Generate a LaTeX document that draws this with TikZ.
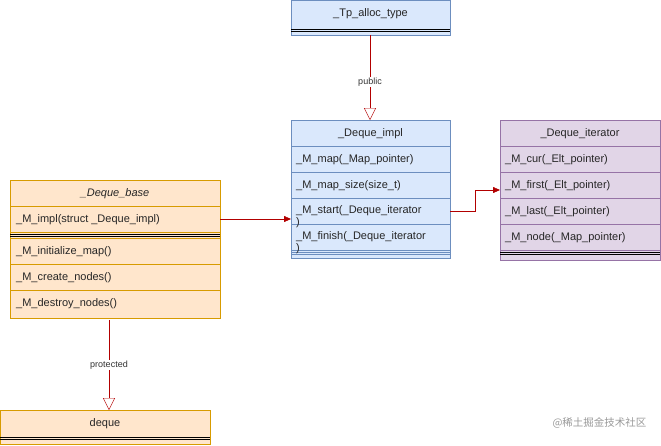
\documentclass[tikz,border=0pt]{standalone}
\usepackage{fontspec}
\setmainfont{Liberation Sans}
\newfontfamily\cjk{Noto Sans CJK SC}
\usetikzlibrary{arrows.meta}
\definecolor{ofill}{HTML}{FFE6CC}\definecolor{odraw}{HTML}{D79B00}
\definecolor{bfill}{HTML}{DAE8FC}\definecolor{bdraw}{HTML}{6C8EBF}
\definecolor{pfill}{HTML}{E1D5E7}\definecolor{pdraw}{HTML}{9673A6}
\definecolor{ared}{HTML}{B20000}
\begin{document}
\begin{tikzpicture}[x=1pt,y=-1pt,
 txt/.style={font=\fontsize{11}{11.5}\selectfont, text=black!85, inner sep=0pt},
 hd/.style={txt, anchor=center},
 rw/.style={txt, anchor=west, align=left},
 lbl/.style={font=\fontsize{9}{10}\selectfont, fill=white, inner sep=1pt, text=black!80},
 inh/.style={draw=ared, -{Triangle[open,length=12pt,width=12pt]}},
 ass/.style={draw=ared, -{Triangle[length=7pt,width=6pt]}}]
\useasboundingbox (0,0) rectangle (661,445);
\newcommand{\mybox}[8]{%
 \fill[#6] (#1,#3) rectangle (#2,#5);
 \draw[#7] (#1,#3) rectangle (#2,#5);
 \draw[#8] (#1,#4+2) -- (#2,#4+2);
 \draw[#8] (#1,#4+4.5) -- (#2,#4+4.5);}
\newcommand{\myrow}[4]{\draw[#4] (#1,#3) -- (#2,#3);}
% Tp_alloc_type
\mybox{291}{450}{0}{27}{35}{bfill}{bdraw}{black}
\node[hd] (tp) at (370.5,14) {\_Tp\_alloc\_type};
\coordinate (tpb) at (370,35);
% Deque_impl
\mybox{291}{450}{120}{250}{258}{bfill}{bdraw}{bdraw}
\foreach \y in {146,172,198,224,250}{\myrow{291}{450}{\y}{bdraw}}
\node[hd] (impl) at (370.5,134) {\_Deque\_impl};
\coordinate (implt) at (370,120);
\node[rw] (i1) at (296,160) {\_M\_map(\_Map\_pointer)};
\node[rw] (i2) at (296,186) {\_M\_map\_size(size\_t)};
\node[rw,anchor=north west] (i3) at (296,205.5) {\_M\_start(\_Deque\_iterator\\)};
\node[rw,anchor=north west] (i4) at (296,231.5) {\_M\_finish(\_Deque\_iterator\\)};
\coordinate (i3l) at (291,219);
\coordinate (i3r) at (450,211);
% Deque_iterator
\mybox{500}{660}{120}{250}{260}{pfill}{pdraw}{black}
\foreach \y in {146,172,198,224,250}{\myrow{500}{660}{\y}{pdraw}}
\node[hd] (it) at (580,134) {\_Deque\_iterator};
\node[rw] (t1) at (505,160) {\_M\_cur(\_Elt\_pointer)};
\node[rw] (t2) at (505,186) {\_M\_first(\_Elt\_pointer)};
\node[rw] (t3) at (505,212) {\_M\_last(\_Elt\_pointer)};
\node[rw] (t4) at (505,238) {\_M\_node(\_Map\_pointer)};
\coordinate (t2l) at (500,190);
% Deque_base
\fill[ofill] (10,180) rectangle (220,318);
\draw[odraw] (10,180) rectangle (220,318);
\foreach \y in {206,232,238,264,290}{\myrow{10}{220}{\y}{odraw}}
\draw[black] (10,234) -- (220,234); \draw[black] (10,236.5) -- (220,236.5);
\node[hd] (base) at (115,194) {\itshape \_Deque\_base};
\node[rw] (b1) at (16,220) {\_M\_impl(struct \_Deque\_impl)};
\node[rw] (b2) at (16,252) {\_M\_initialize\_map()};
\node[rw] (b3) at (16,278) {\_M\_create\_nodes()};
\node[rw] (b4) at (16,304) {\_M\_destroy\_nodes()};
\coordinate (b1r) at (220,219);
\coordinate (bb) at (109,320);
% deque
\mybox{0}{210}{410}{435}{444}{ofill}{odraw}{black}
\node[hd] (dq) at (105,424) {deque};
\coordinate (dqt) at (109,410);
% connectors
\draw[inh] (tpb) -- node[lbl,pos=0.55]{public} (implt);
\draw[inh] (bb) -- node[lbl,pos=0.5]{protected} (dqt);
\draw[ass] (b1r) -- (i3l);
\draw[ass] (i3r) -- (475,211) -- (475,190) -- (t2l);
\node[font=\cjk\fontsize{10.5}{11}\selectfont, text=black!40, anchor=east] (wm) at (650,423) {@稀土掘金技术社区};
\end{tikzpicture}
\end{document}
